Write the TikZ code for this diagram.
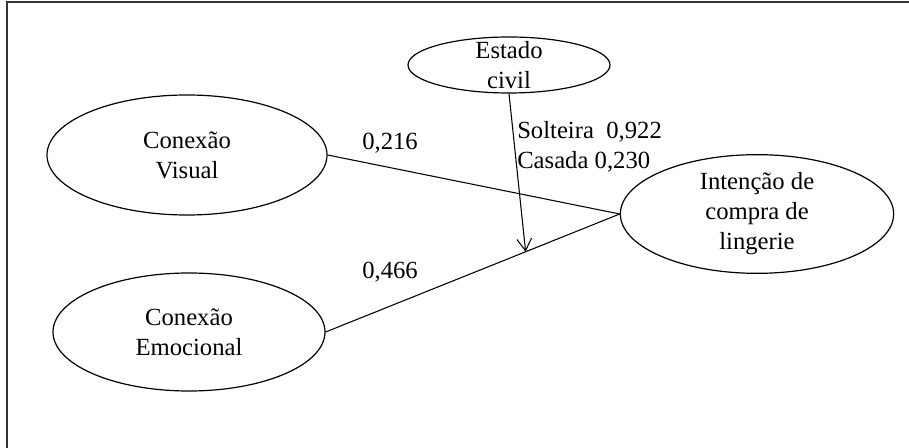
\documentclass[tikz,border=0pt]{standalone}
\usepackage{fontspec}
\setmainfont{Liberation Serif}
\usetikzlibrary{shapes.geometric,arrows.meta,calc}

\begin{document}
\begin{tikzpicture}[
  x=0.75pt, y=-0.75pt,
  font=\fontsize{18.5}{22.5}\selectfont,
  %% ── node styles ────────────────────────────────────────────────────
  %% Latent constructs (ellipses)
  LV/.style ={ellipse, draw, line width=0.9pt,
               inner xsep=0pt, inner ysep=-8pt, align=center},
  %% Path coefficients
  coef/.style={inner sep=0pt, align=left},
  %% Connectors
  path/.style={line width=0.8pt},
  arr/.style ={-{Straight Barb[length=9pt,width=11pt]}, line width=0.8pt},
  frame/.style={draw=black!80, line width=1.5pt},
]

\useasboundingbox (0,0) rectangle (909,448);
\clip (0,0) rectangle (909,448);

%% outer frame (cut at right and bottom)
\draw[frame] (7,2.5) rectangle (930,470);

%% ── constructs ─────────────────────────────────────────────────────
\node[LV, minimum width=210pt, minimum height=90pt] (vis) at (187,155)
  {Conex\~ao\\Visual};
\node[LV, minimum width=204pt, minimum height=88.5pt] (emo) at (189,332)
  {Conex\~ao\\Emocional};
\node[LV, minimum width=205pt, minimum height=89pt] (int) at (757,214)
  {Inten\c{c}\~ao\ de\\compra de\\lingerie};
\node[LV, minimum width=151.5pt, minimum height=42pt] (est) at (509,65)
  {Estado\\civil};

%% ── paths ──────────────────────────────────────────────────────────
\draw[path] (vis.east) -- (int.west);
\draw[path] (emo.east) -- (int.west);

%% moderation arrow lands on the Emocional path
\coordinate (mod) at ($(emo.east)!0.68!(int.west)$);
\draw[arr] (est.south) -- (mod);

%% ── coefficients ───────────────────────────────────────────────────
\node[coef] (cvis) at (390,143) {0,216};
\node[coef] (cemo) at (390,272) {0,466};
\node[coef, anchor=west] (cest) at (517,147)
  {Solteira\ \ 0,922\\Casada 0,230};

\end{tikzpicture}
\end{document}
